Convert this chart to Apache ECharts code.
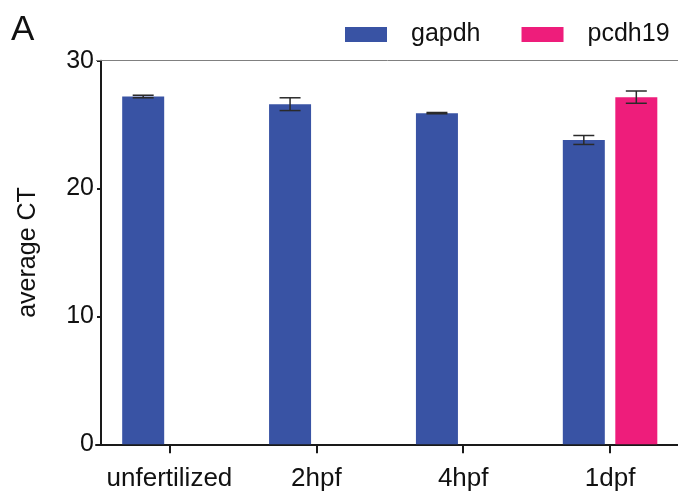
<!DOCTYPE html>
<html>
<head>
<meta charset="utf-8">
<script src="https://cdn.jsdelivr.net/npm/echarts@6/dist/echarts.min.js"></script>
<style>
html,body{margin:0;padding:0;background:#fff;}
#chart{width:678px;height:493px;}
</style>
</head>
<body>
<div id="chart"></div>
<script>
// ---- data ----
var categories = ['unfertilized', '2hpf', '4hpf', '1dpf'];
var gapdhMean = [27.2, 26.6, 25.9, 23.8];
var gapdhErr = [0.1, 0.5, 0.05, 0.35];
var pcdh19Mean = [null, null, null, 27.15];
var pcdh19Err = [null, null, null, 0.48];
var yTicks = [0, 10, 20, 30];

var FONT = "'Liberation Sans', Arial, sans-serif";
var BAR_W = 42, BAR_GAP = 0.25;
var offsetG = -(BAR_W + BAR_W * BAR_GAP) / 2;
var offsetP = (BAR_W + BAR_W * BAR_GAP) / 2;

function errData(mean, err) {
  var out = [];
  for (var i = 0; i < mean.length; i++) {
    if (mean[i] != null) out.push([i, mean[i], err[i]]);
  }
  return out;
}

function errRenderer(offset) {
  return function (params, api) {
    var i = api.value(0), v = api.value(1), e = api.value(2);
    var c = api.coord([i, v]);
    var x = c[0] + offset;
    var yTop = api.coord([i, v + e])[1];
    var yBot = api.coord([i, v - e])[1];
    var hw = BAR_W / 4;
    var st = { stroke: '#2a2a2a', lineWidth: 1.5 };
    return {
      type: 'group',
      children: [
        { type: 'line', shape: { x1: x, y1: yTop, x2: x, y2: yBot }, style: st },
        { type: 'line', shape: { x1: x - hw, y1: yTop, x2: x + hw, y2: yTop }, style: st },
        { type: 'line', shape: { x1: x - hw, y1: yBot, x2: x + hw, y2: yBot }, style: st }
      ]
    };
  };
}

var chart = echarts.init(document.getElementById('chart'), null, { renderer: 'canvas' });
chart.setOption({
  backgroundColor: '#fff',
  animation: false,
  textStyle: { fontFamily: FONT },
  title: {
    text: 'A', left: 6, top: 8,
    textStyle: { fontFamily: FONT, fontSize: 35, fontWeight: 'normal', color: '#111' }
  },
  legend: {
    data: ['gapdh', 'pcdh19'],
    orient: 'horizontal',
    left: 345, top: 22, width: 420, padding: 0,
    itemWidth: 42, itemHeight: 15, itemGap: 41,
    icon: 'rect',
    textStyle: { fontFamily: FONT, fontSize: 25, color: '#111', padding: [0, 0, 0, 19] }
  },
  grid: {
    left: 96, right: -5.5, top: 60.7, bottom: 48.7,
    containLabel: false, outerBoundsMode: 'none'
  },
  xAxis: {
    type: 'category',
    data: categories,
    boundaryGap: true,
    axisLine: { show: true, lineStyle: { color: '#1a1a1a', width: 2 } },
    axisTick: { show: true, alignWithLabel: true, length: 9, lineStyle: { color: '#1a1a1a', width: 2 } },
    axisLabel: { fontFamily: FONT, fontSize: 26, color: '#111', margin: 22, interval: 0 }
  },
  yAxis: {
    type: 'value',
    min: yTicks[0], max: yTicks[yTicks.length - 1], interval: 10,
    offset: -5,
    name: 'average CT',
    nameLocation: 'middle',
    nameGap: 60,
    nameTextStyle: { fontFamily: FONT, fontSize: 25, color: '#111' },
    axisLine: { show: true, lineStyle: { color: '#1a1a1a', width: 2 } },
    axisTick: { show: true, length: 4, lineStyle: { color: '#1a1a1a', width: 2 } },
    axisLabel: { fontFamily: FONT, fontSize: 25, color: '#111', margin: 7 },
    splitLine: { show: false }
  },
  series: [
    {
      name: 'gapdh', type: 'bar', data: gapdhMean,
      barWidth: BAR_W, barGap: (BAR_GAP * 100) + '%',
      itemStyle: { color: '#3953A4' },
      markLine: {
        silent: true, symbol: 'none', label: { show: false },
        lineStyle: { color: '#808080', width: 1, type: 'solid' },
        data: [{ yAxis: yTicks[yTicks.length - 1] }]
      }
    },
    {
      name: 'pcdh19', type: 'bar', data: pcdh19Mean,
      barWidth: BAR_W,
      itemStyle: { color: '#EE1D7B' }
    },
    {
      name: 'gapdhErr', type: 'custom', data: errData(gapdhMean, gapdhErr),
      renderItem: errRenderer(offsetG), z: 5, encode: { x: 0, y: 1 }
    },
    {
      name: 'pcdh19Err', type: 'custom', data: errData(pcdh19Mean, pcdh19Err),
      renderItem: errRenderer(offsetP), z: 5, encode: { x: 0, y: 1 }
    }
  ]
});
</script>
</body>
</html>
